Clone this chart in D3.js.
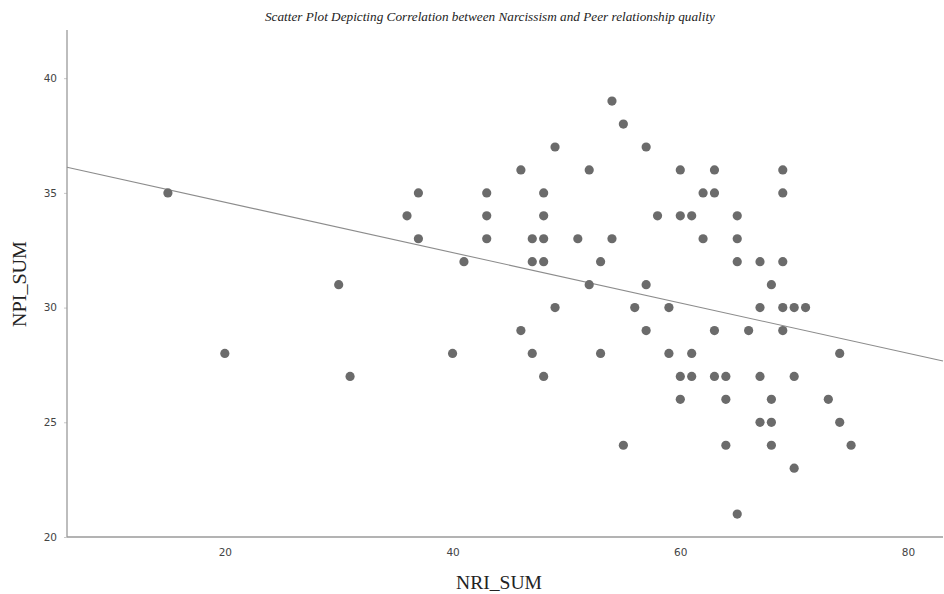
<!DOCTYPE html>
<html>
<head>
<meta charset="utf-8">
<script src="https://cdn.jsdelivr.net/npm/d3@7"></script>
<style>
  html, body { margin: 0; padding: 0; background: #fff; }
</style>
</head>
<body>
<svg id="chart" width="944" height="594"></svg>
<script>
const titleText = "Scatter Plot Depicting Correlation between Narcissism and Peer relationship quality";
const xLabel = "NRI_SUM";
const yLabel = "NPI_SUM";
const xTicks = [20, 40, 60, 80];
const yTicks = [20, 25, 30, 35, 40];

const nri = [15,20,30,31,36,37,37,40,41,43,43,43,46,46,47,47,47,48,48,48,48,48,49,49,51,52,52,53,53,54,54,55,55,56,57,57,57,58,59,59,60,60,60,60,61,61,61,62,62,63,63,63,63,64,64,64,65,65,65,65,66,67,67,67,67,68,68,68,68,69,69,69,69,69,70,70,70,71,73,74,74,75];
const npi = [35,28,31,27,34,35,33,28,32,35,34,33,36,29,33,32,28,35,34,33,32,27,37,30,33,36,31,32,28,39,33,38,24,30,37,31,29,34,30,28,36,34,27,26,34,28,27,33,35,36,35,29,27,27,26,24,34,33,32,21,29,32,30,27,25,31,26,25,24,36,35,32,30,29,30,27,23,30,26,28,25,24];

// fit line
const fitIntercept = 36.79;
const fitSlope = -0.1098;

(function () {
const svg = d3.select("#chart");
const mLeft = 67, mRight = 943, mTop = 30, mBottom = 537;

const x = d3.scaleLinear().domain([6.14, 83.07]).range([mLeft, mRight]);
const y = d3.scaleLinear().domain([20, 42.1]).range([mBottom, mTop]);

const axisColor = "#9a9a9a";
const serif = "'Liberation Serif', 'Times New Roman', serif";

// Title
svg.append("text")
  .attr("x", 490).attr("y", 21)
  .attr("text-anchor", "middle")
  .attr("font-family", serif)
  .attr("font-style", "italic")
  .attr("font-size", 12.5)
  .attr("fill", "#222")
  .attr("textLength", 450)
  .attr("lengthAdjust", "spacingAndGlyphs")
  .text(titleText);

// Axes
const xAxis = d3.axisBottom(x).tickValues(xTicks).tickSize(0).tickPadding(12).tickFormat(d3.format("d"));
const yAxis = d3.axisLeft(y).tickValues(yTicks).tickSize(3).tickPadding(7).tickFormat(d3.format("d"));

const gx = svg.append("g").attr("transform", `translate(0,${mBottom})`).call(xAxis);
const gy = svg.append("g").attr("transform", `translate(${mLeft},0)`).call(yAxis);

[gx, gy].forEach(g => {
  g.select(".domain").remove();
  g.selectAll(".tick line").attr("stroke", "#c8c8c8");
  g.selectAll(".tick text")
    .attr("font-family", "DejaVu Sans, sans-serif")
    .attr("font-size", 10.5)
    .attr("fill", "#444");
});

svg.append("line").attr("x1", mLeft).attr("x2", mLeft).attr("y1", mTop).attr("y2", mBottom)
  .attr("stroke", axisColor).attr("stroke-width", 1.3);
svg.append("line").attr("x1", mLeft).attr("x2", mRight).attr("y1", mBottom).attr("y2", mBottom)
  .attr("stroke", axisColor).attr("stroke-width", 1.3);

// Axis labels
svg.append("text")
  .attr("x", 499).attr("y", 589)
  .attr("text-anchor", "middle")
  .attr("font-family", serif)
  .attr("font-size", 19)
  .attr("fill", "#222")
  .attr("textLength", 86)
  .attr("lengthAdjust", "spacingAndGlyphs")
  .text(xLabel);

svg.append("text")
  .attr("transform", `translate(26,284) rotate(-90)`)
  .attr("text-anchor", "middle")
  .attr("font-family", serif)
  .attr("font-size", 19)
  .attr("fill", "#222")
  .attr("textLength", 86)
  .attr("lengthAdjust", "spacingAndGlyphs")
  .text(yLabel);

// Fit line
const x0 = x.domain()[0], x1 = x.domain()[1];
svg.append("line")
  .attr("x1", x(x0)).attr("y1", y(fitIntercept + fitSlope * x0))
  .attr("x2", x(x1)).attr("y2", y(fitIntercept + fitSlope * x1))
  .attr("stroke", "#8c8c8c").attr("stroke-width", 1.1);

// Points
const pts = nri.map((v, i) => ({ x: v, y: npi[i] }));
svg.append("g").selectAll("circle").data(pts).join("circle")
  .attr("cx", d => x(d.x)).attr("cy", d => y(d.y))
  .attr("r", 4.6)
  .attr("fill", "#6b6b6b");
})();
</script>
</body>
</html>
